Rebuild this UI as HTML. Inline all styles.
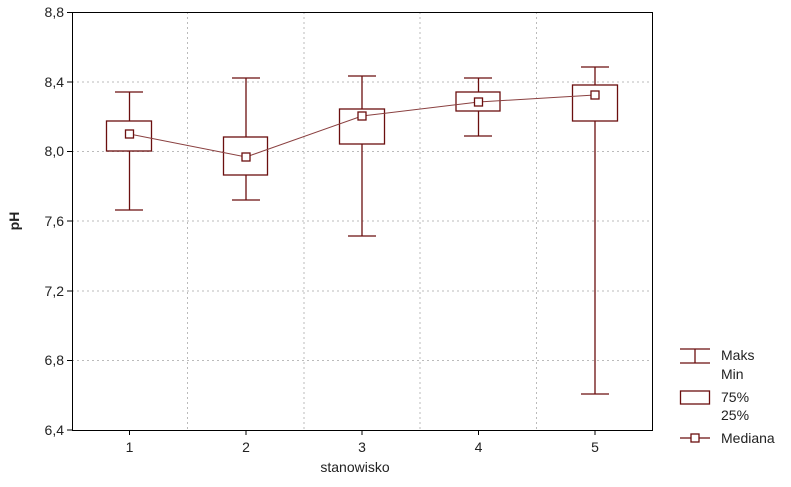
<!DOCTYPE html>
<html><head><meta charset="utf-8"><style>body{margin:0;background:#fff}svg{display:block}</style></head><body>
<svg width="791" height="487" xmlns="http://www.w3.org/2000/svg" font-family="Liberation Sans, sans-serif">
<rect width="791" height="487" fill="#fff"/>
<g stroke="#bbb" stroke-dasharray="2,3" stroke-width="1">
<line x1="72" y1="82" x2="653" y2="82"/><line x1="72" y1="151.5" x2="653" y2="151.5"/><line x1="72" y1="221" x2="653" y2="221"/><line x1="72" y1="291" x2="653" y2="291"/><line x1="72" y1="360.5" x2="653" y2="360.5"/>
<line x1="187.5" y1="12" x2="187.5" y2="430"/><line x1="304" y1="12" x2="304" y2="430"/><line x1="420" y1="12" x2="420" y2="430"/><line x1="536.5" y1="12" x2="536.5" y2="430"/>
</g>
<rect x="72.5" y="12.5" width="580" height="418" fill="none" stroke="#000"/>
<g stroke="#000">
<line x1="67" y1="12.5" x2="72" y2="12.5"/><line x1="67" y1="82" x2="72" y2="82"/><line x1="67" y1="151.5" x2="72" y2="151.5"/><line x1="67" y1="221" x2="72" y2="221"/><line x1="67" y1="291" x2="72" y2="291"/><line x1="67" y1="360.5" x2="72" y2="360.5"/><line x1="67" y1="430" x2="72" y2="430"/>
<line x1="129.5" y1="430" x2="129.5" y2="435"/><line x1="246" y1="430" x2="246" y2="435"/><line x1="362" y1="430" x2="362" y2="435"/><line x1="478.5" y1="430" x2="478.5" y2="435"/><line x1="595" y1="430" x2="595" y2="435"/>
</g>
<g font-size="14" fill="#222" text-anchor="end">
<text x="64" y="17">8,8</text><text x="64" y="87">8,4</text><text x="64" y="156">8,0</text><text x="64" y="226">7,6</text><text x="64" y="296">7,2</text><text x="64" y="365">6,8</text><text x="64" y="435">6,4</text>
</g>
<g font-size="14" fill="#222" text-anchor="middle">
<text x="129.5" y="452">1</text><text x="246" y="452">2</text><text x="362" y="452">3</text><text x="478.5" y="452">4</text><text x="595" y="452">5</text>
<text x="355" y="472">stanowisko</text>
</g>
<text transform="translate(19,221) rotate(-90)" font-size="14" font-weight="bold" text-anchor="middle" fill="#222">pH</text>
<g stroke="#6b0f0f" stroke-width="1.3" fill="none">
<line x1="129.5" y1="92" x2="129.5" y2="210"/><line x1="115" y1="92" x2="143" y2="92"/><line x1="115" y1="210" x2="143" y2="210"/><rect x="106.5" y="121" width="45" height="30" fill="#fff"/>
<line x1="246" y1="78" x2="246" y2="200"/><line x1="232" y1="78" x2="260" y2="78"/><line x1="232" y1="200" x2="260" y2="200"/><rect x="223.5" y="137" width="44" height="38" fill="#fff"/>
<line x1="362" y1="76" x2="362" y2="236"/><line x1="348" y1="76" x2="376" y2="76"/><line x1="348" y1="236" x2="376" y2="236"/><rect x="339.5" y="109" width="45" height="35" fill="#fff"/>
<line x1="478.5" y1="78" x2="478.5" y2="136"/><line x1="464" y1="78" x2="492" y2="78"/><line x1="464" y1="136" x2="492" y2="136"/><rect x="456" y="92" width="44" height="19" fill="#fff"/>
<line x1="595" y1="67" x2="595" y2="394"/><line x1="581" y1="67" x2="609" y2="67"/><line x1="581" y1="394" x2="609" y2="394"/><rect x="572.5" y="85" width="45" height="36" fill="#fff"/>
<polyline points="129.5,134 246,157 362,116 478.5,102 595,95" stroke="#8a4040" stroke-width="1"/>
<rect x="125.5" y="130" width="8" height="8" fill="#fff"/><rect x="242" y="153" width="8" height="8" fill="#fff"/><rect x="358" y="112" width="8" height="8" fill="#fff"/><rect x="474.5" y="98" width="8" height="8" fill="#fff"/><rect x="591" y="91" width="8" height="8" fill="#fff"/>
<line x1="680" y1="349" x2="710" y2="349"/><line x1="680" y1="363" x2="710" y2="363"/><line x1="695" y1="349" x2="695" y2="363"/>
<rect x="680.5" y="391" width="29" height="13"/>
<line x1="680" y1="438" x2="710" y2="438"/><rect x="691" y="434" width="8" height="8" fill="#fff"/>
</g>
<g font-size="14" fill="#222">
<text x="721" y="360">Maks</text><text x="721" y="379">Min</text><text x="721" y="402">75%</text><text x="721" y="420">25%</text><text x="721" y="443">Mediana</text>
</g>
</svg>
</body></html>
